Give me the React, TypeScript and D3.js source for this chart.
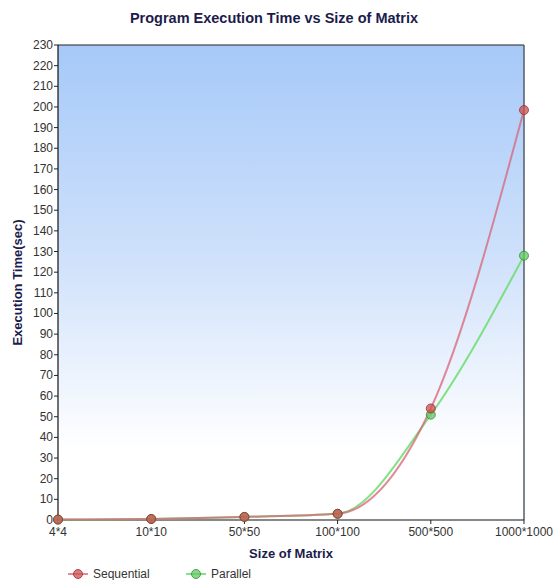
import React from "react";
import * as d3 from "d3";

const categories = ["4*4", "10*10", "50*50", "100*100", "500*500", "1000*1000"];
const sequential = [0.2, 0.5, 1.5, 3, 54, 198.5];
const parallel = [0.2, 0.5, 1.5, 3, 51, 128];
const yTicks = d3.range(0, 231, 10);
const seriesNames = ["Sequential", "Parallel"];

const W = 558, H = 580;
const m = { left: 58, right: 524, top: 45, bottom: 520 };

export default function App() {
  const x = d3.scalePoint<string>().domain(categories).range([m.left, m.right]);
  const y = d3.scaleLinear().domain([0, 230]).range([m.bottom, m.top]);
  const line = d3
    .line<number>()
    .x((_, i) => x(categories[i]) as number)
    .y((d) => y(d))
    .curve(d3.curveMonotoneX);

  const font = "'Liberation Sans', Arial, sans-serif";
  const par = { name: seriesNames[1], data: parallel, stroke: "rgba(110,220,110,0.85)", fill: "rgba(100,200,100,0.75)", edge: "rgba(50,140,50,0.8)" };
  const seq = { name: seriesNames[0], data: sequential, stroke: "rgba(215,100,120,0.75)", fill: "rgba(205,80,80,0.75)", edge: "rgba(150,50,50,0.8)" };
  const series = [par, seq];

  return (
    <svg width={W} height={H} style={{ position: "absolute", left: 0, top: 0, background: "#fff" }} fontFamily={font}>
      <defs>
        <linearGradient id="bg" x1="0" y1="0" x2="0" y2="1">
          <stop offset="0" stopColor="#a6c9f8" />
          <stop offset="0.45" stopColor="#cfe1fb" />
          <stop offset="0.85" stopColor="#ffffff" />
          <stop offset="1" stopColor="#ffffff" />
        </linearGradient>
      </defs>
      <text x={274} y={23} textAnchor="middle" fontSize={14.5} fontWeight="bold" fill="#1c1c4c">
        Program Execution Time vs Size of Matrix
      </text>
      <rect x={m.left} y={m.top} width={m.right - m.left} height={m.bottom - m.top} fill="url(#bg)" stroke="none" />
      <line x1={m.left} x2={m.right} y1={m.top} y2={m.top} stroke="#222" strokeWidth={1} />
      <line x1={m.right} x2={m.right} y1={m.top} y2={m.bottom} stroke="#555c66" strokeWidth={1.5} />
      <line x1={m.left} x2={m.left} y1={m.top} y2={m.bottom} stroke="#111" strokeWidth={1.2} />
      <line x1={m.left} x2={m.right} y1={m.bottom} y2={m.bottom} stroke="#111" strokeWidth={1.2} />
      {yTicks.map((t) => (
        <g key={t}>
          <line x1={m.left - 4} x2={m.left} y1={y(t)} y2={y(t)} stroke="#222" />
          <text x={m.left - 5} y={y(t) + 4} textAnchor="end" fontSize={12} fill="#333">
            {t}
          </text>
        </g>
      ))}
      {categories.map((c) => (
        <g key={c}>
          <line x1={x(c)} x2={x(c)} y1={m.bottom} y2={m.bottom + 4} stroke="#222" />
          <text x={x(c)} y={m.bottom + 16} textAnchor="middle" fontSize={12} fill="#333">
            {c}
          </text>
        </g>
      ))}
      <text x={(m.left + m.right) / 2} y={558} textAnchor="middle" fontSize={13} fontWeight="bold" fill="#1c1c4c">
        Size of Matrix
      </text>
      <text
        transform={`translate(22,${(m.top + m.bottom) / 2}) rotate(-90)`}
        textAnchor="middle"
        fontSize={13}
        fontWeight="bold"
        fill="#1c1c4c"
      >
        Execution Time(sec)
      </text>
      {series.map((s) => (
        <path key={s.name} d={line(s.data) || ""} fill="none" stroke={s.stroke} strokeWidth={2} />
      ))}
      {series.map((s) =>
        s.data.map((v, i) => (
          <circle key={s.name + i} cx={x(categories[i])} cy={y(v)} r={4.5} fill={s.fill} stroke={s.edge} strokeWidth={1} />
        ))
      )}
      {[
        { s: seq, cx: 78 },
        { s: par, cx: 196 },
      ].map((l) => (
        <g key={l.s.name}>
          <line x1={l.cx - 10} x2={l.cx + 10} y1={574} y2={574} stroke={l.s.stroke} strokeWidth={2} />
          <circle cx={l.cx} cy={574} r={4.5} fill={l.s.fill} stroke={l.s.edge} />
          <text x={l.cx + 15} y={578} fontSize={12} fill="#333">
            {l.s.name}
          </text>
        </g>
      ))}
    </svg>
  );
}
